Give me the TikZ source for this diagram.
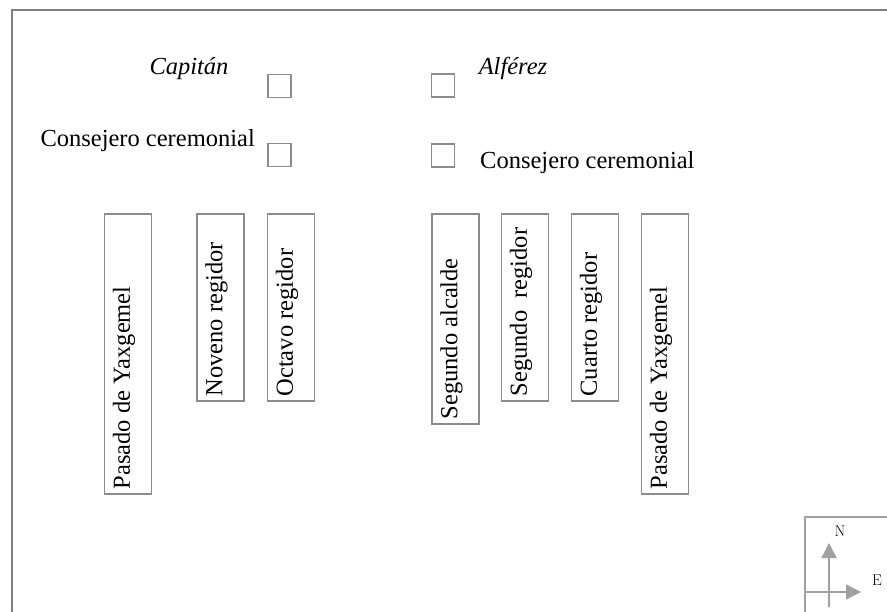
\documentclass[tikz,border=0pt]{standalone}
\usepackage{fontspec}
\newfontfamily\garfont{Liberation Serif}
\usetikzlibrary{calc,arrows.meta}
\definecolor{framegray}{RGB}{128,128,128}
\definecolor{boxgray}{RGB}{140,140,140}
\definecolor{compassgray}{RGB}{160,160,160}
\newcommand{\mainsize}{\garfont\fontsize{24.5}{28}\selectfont}
\tikzset{
  outerframe/.style={draw=framegray, line width=1.8pt},
  seat/.style={draw=boxgray, line width=1.5pt, minimum size=23pt, inner sep=0pt},
  post/.style={draw=boxgray, line width=1.2pt, inner sep=0pt, minimum width=47pt},
  posttext/.style={rotate=90, anchor=base west, inner sep=0pt, font=\mainsize},
  lbl/.style={inner sep=0pt, font=\mainsize},
  compassline/.style={draw=compassgray, line width=1.3pt},
  compassarrow/.style={compassline, -{Triangle[length=15pt, width=15pt]}},
  compasslbl/.style={inner sep=0pt, font=\fontsize{15.5}{18}\selectfont}
}
\begin{document}
\begin{tikzpicture}[x=1pt, y=-1pt]
\useasboundingbox (0,0) rectangle (887,612);
\fill[white] (0,0) rectangle (887,612);

% outer frame (open towards the right and bottom)
\draw[outerframe] (12,620) -- (12,10) -- (895,10);

% titles and seats
\node[lbl, anchor=base] (capitan) at (189,75) {\itshape Capitán};
\node[lbl, anchor=base] (alferez) at (513,75) {\itshape Alférez};
\node[lbl, anchor=base east] (consL) at (255,147) {Consejero ceremonial};
\node[lbl, anchor=base west] (consR) at (480,169) {Consejero ceremonial};

\node[seat] (seatCap) at (279.5,86) {};
\node[seat] (seatConsL) at (279.5,155) {};
\node[seat] (seatAlf) at (443,85.5) {};
\node[seat] (seatConsR) at (443,155.5) {};

% posts: box outlines
\node[post, minimum height=280pt] (pasadoL) at (128,354) {};
\node[post, minimum height=187pt] (noveno) at (220.5,307.5) {};
\node[post, minimum height=187pt] (octavo) at (291,307.5) {};
\node[post, minimum height=210pt] (segAlc) at (455.5,319) {};
\node[post, minimum height=187pt] (segReg) at (525,307.5) {};
\node[post, minimum height=187pt] (cuarto) at (595,307.5) {};
\node[post, minimum height=280pt] (pasadoR) at (665,354) {};

% posts: rotated names
\node[posttext] (tPasadoL) at ($(pasadoL.south west)+(26,-5)$) {Pasado de Yaxgemel};
\node[posttext] (tNoveno) at ($(noveno.south west)+(26,-5)$) {Noveno regidor};
\node[posttext] (tOctavo) at ($(octavo.south west)+(26,-5)$) {Octavo regidor};
\node[posttext] (tSegAlc) at ($(segAlc.south west)+(26,-5)$) {Segundo alcalde};
\node[posttext] (tSegReg) at ($(segReg.south west)+(26,-5)$) {Segundo\ \ regidor};
\node[posttext] (tCuarto) at ($(cuarto.south west)+(26,-5)$) {Cuarto regidor};
\node[posttext] (tPasadoR) at ($(pasadoR.south west)+(26,-5)$) {Pasado de Yaxgemel};

% compass
\draw[compassline] (805,620) -- (805,517) -- (895,517);
\coordinate (nBase) at (829,607);
\coordinate (nTip) at (829,543);
\coordinate (eBase) at (805,592);
\coordinate (eTip) at (861,592);
\draw[compassarrow] (nBase) -- (nTip);
\draw[compassarrow] (eBase) -- (eTip);
\node[compasslbl] (north) at (840,531) {N};
\node[compasslbl] (east) at (877,580) {E};
\end{tikzpicture}
\end{document}
